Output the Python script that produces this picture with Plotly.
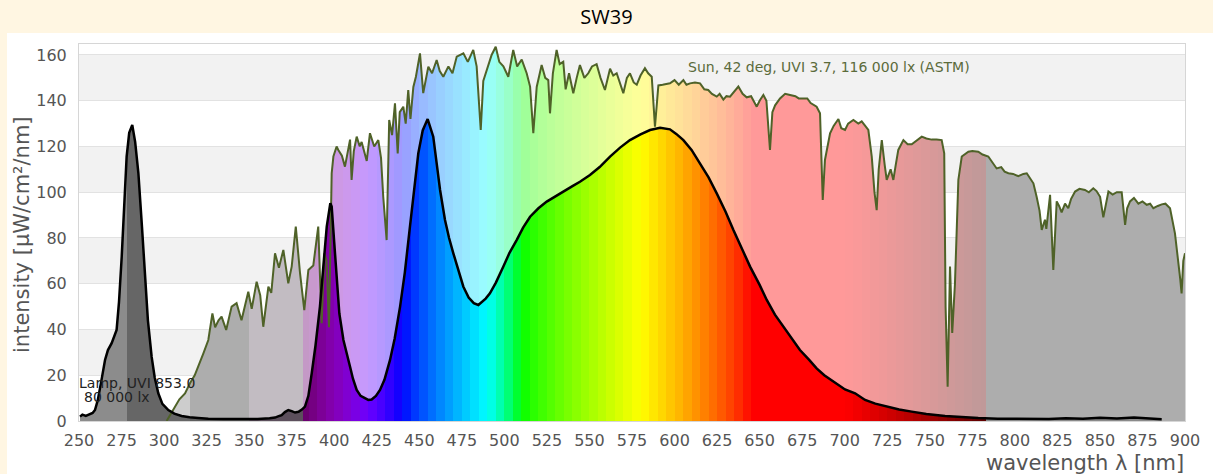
import plotly.graph_objects as go

# ---------------- data ----------------
sun_wl = [301.5, 306.4, 309, 312.3, 315.2, 318, 320.1, 323.1, 326, 328.4, 330, 332, 333.8, 336.5,
          339.7, 342.6, 345.5, 347.5, 349.5, 351.5, 354.4, 356.5, 358.3, 361.3, 363, 365.2, 367.5,
          370.1, 373, 375, 377.4, 379.9, 382.4, 384.8, 387.7, 390.6, 392.6, 394.2, 395.5, 396.9,
          398.5, 399.5, 401.4, 402.4, 404.5, 406.3, 408, 409.3, 410.2, 411.5, 413.2, 415, 416.1,
          418, 419.1, 421, 423.5, 425.9, 427.5, 428.8, 430.8, 432.3, 434, 435.7, 437.3, 438.5,
          440.6, 442, 443.5, 444.8, 446.5, 448, 450.4, 452.3, 455.3, 457.5, 460.2, 462, 464.1,
          467.1, 469.5, 472, 475.9, 478.5, 481.7, 483.7, 486.1, 487.6, 490.5, 492.5, 494.9, 497,
          499.4, 502.3, 505.2, 507.5, 510.2, 513.1, 515.1, 517, 519, 521.9, 524, 525.8, 526.8,
          528.5, 530.7, 532.5, 534.6, 536, 538, 540.5, 542.5, 544.4, 547, 549.3, 551.5, 554.2,
          556.5, 559.1, 562.1, 564, 566, 568, 569.9, 572, 573.8, 576, 577.8, 580, 582.6, 584.5,
          586.6, 588.5, 590.5, 593, 597.3, 600, 602.5, 605.2, 607, 609.1, 612, 615, 617.5, 619.8,
          622, 624.8, 626.5, 628.7, 630.5, 632.6, 635, 637.5, 640, 642.4, 645, 646.5, 648.3, 650,
          652.2, 654, 656.1, 657.5, 659.1, 662, 665, 667.9, 671, 673, 675.7, 678, 680, 683.5,
          685.5, 687.1, 688.4, 690, 691.4, 693.5, 696.3, 698, 700.2, 702, 705.1, 708, 710, 713.9,
          715.9, 717.5, 718.8, 720, 721.8, 723.5, 724.7, 727, 728.6, 730, 731.5, 734.5, 737,
          739.4, 742, 745.3, 748, 751.1, 754, 757, 758.5, 759.3, 760.5, 761.9, 763.2, 764.8,
          766.8, 768.8, 772.7, 775, 778.5, 781, 784.4, 787, 789.3, 792, 794, 796.2, 799, 802,
          805, 807, 809, 810.9, 812.8, 814.5, 815.8, 817.7, 818.5, 820.7, 822.6, 824.6, 826,
          827.5, 829.5, 831.4, 833, 835.4, 838, 841.2, 843.5, 846.1, 848, 850.1, 852, 853.5, 855,
          857.5, 859.9, 862.8, 864.8, 866, 867.7, 870, 872.6, 875, 877.5, 879.5, 881.4, 884,
          886.3, 888.5, 891.2, 894.1, 896.1, 897.2, 898, 899, 900]
sun_val = [0, 6.3, 9.5, 12.1, 16.5, 20, 23.7, 29.6, 35.4, 47, 41, 44, 45.6, 39.8,
           50, 51.5, 44, 50, 56.5, 49, 60.9, 55, 41.2, 58.7, 56, 73.3, 67,
           74.8, 60.2, 67.5, 85, 64.6, 48.5, 66, 68, 85, 42.7, 73.3, 70, 41,
           108.3, 115.6, 120, 118.5, 116, 111.2, 119, 123, 105.4, 118, 124.3, 120, 122,
           116, 113.7, 125.8, 120, 122.8, 115, 98, 79.1, 131.6, 125, 138.9, 117, 135,
           137.4, 130, 144.7, 132, 146, 150.5, 160.7, 143.3, 154.9, 152, 157.8, 153, 150.5,
           155, 152, 159.3, 160.7, 157, 162.2, 155, 127.2, 148.7, 155, 160, 163.6, 157,
           155, 150.5, 162.2, 155, 158, 152, 146.2, 125.8, 146, 155.6, 150, 149, 134.5,
           152, 162.2, 156, 157, 145, 152, 143.3, 150, 155.6, 150, 152, 155, 156,
           150, 144.7, 154, 151, 152, 148, 143.3, 150, 152, 148, 147, 151, 154.2, 152,
           150.5, 128.7, 146.7, 147, 147.6, 149, 147, 149, 147, 147.6, 148, 147.6, 145, 144.7,
           143, 141.8, 143, 140.5, 142, 141.8, 144, 146.2, 143, 141.5, 142, 140, 137.4, 140,
           142.5, 140, 118.5, 135, 138, 141, 143, 142.5, 142, 141, 141, 141, 139, 137.4,
           134.5, 96.6, 114.1, 120, 125.8, 129, 132, 128, 127.2, 130, 131.6, 130, 131, 127.2,
           115.6, 100, 92.2, 110, 122.8, 112, 105.4, 110, 105.4, 112, 118.5, 122.8, 121,
           121, 122.5, 124.3, 123.5, 123, 123, 122.8, 117, 50, 15, 67.5, 38.5, 60,
           105.4, 115.6, 117.7, 118, 117.7, 116.5, 115.6, 113, 110.4, 111, 109, 108.3, 108, 107,
           108, 108.3, 106, 103.9, 98, 92, 83.5, 88, 84, 98.9, 66, 96, 94,
           91.2, 95, 93, 97, 100.3, 101.5, 101, 100, 101.7, 100.5, 98, 89, 95, 100.3,
           99, 100, 100, 85.7, 93, 96, 97.5, 95, 96, 94.5, 95, 93, 94,
           94.7, 95, 93, 82, 70.3, 62, 55.8, 70, 73.3]

lamp_wl = [250.6, 252, 254, 256, 258, 259.4, 261, 263, 265.3, 267, 269.2, 272.1, 273.5, 275.1,
           276.5, 278, 279.5, 281.3, 283, 284.9, 287, 288.8, 290.5, 292.7, 294.5, 296.6, 299,
           302.5, 306, 310.3, 315, 320, 326, 335, 345, 355, 362, 365.2, 367, 369.1, 371, 373,
           375, 377, 379, 381, 382.8, 384.8, 386.8, 389, 391.6, 393.5, 395.6, 397.7, 398.5, 400,
           401.4, 403, 405.4, 407, 409.3, 411, 413.2, 415.5, 418, 420, 422, 424.5, 426.9, 429.5,
           432.8, 435.5, 438.7, 441.5, 444.5, 447, 449.4, 452, 454.9, 458.2, 460, 462.2, 465.1,
           467.5, 470, 473, 475.9, 479, 482, 484.7, 487, 489, 491.5, 495, 499.4, 503, 507.2,
           511, 515.1, 520, 524.9, 530, 534.6, 540, 544.4, 550.3, 556, 562.1, 568, 573.8, 580,
           585.6, 591.5, 597.3, 601, 605.2, 610, 615, 620, 624.8, 630, 634.6, 640, 644.4, 650,
           654.2, 659, 664, 669, 673.7, 679, 683.5, 688, 693.3, 700.2, 706.1, 712, 718, 725.7,
           732, 739.4, 748, 759, 768, 778.5, 790, 800, 810, 820, 830, 840, 850, 860, 870, 880,
           886.3]
lamp_val = [1.9, 2.8, 2.2, 3.0, 3.5, 4.8, 9, 17, 26.7, 31, 34, 39.8, 52, 71.8,
            94, 115.6, 126, 129.4, 122, 108.4, 85, 61.6, 44, 28, 19, 12.1, 7.5,
            4.8, 3.2, 2.2, 1.6, 1.3, 1.0, 0.9, 0.8, 0.9, 1.2, 1.5, 2.0, 2.6, 3.9, 4.8,
            4.3, 3.7, 4.0, 5.0, 6.3, 11, 21, 33, 50, 67, 85, 95.2, 93.7, 78,
            61.6, 47, 35.4, 30, 23.7, 18.5, 13.6, 11, 9.8, 9.2, 9.4, 11, 13.6, 18,
            26.7, 36, 50, 65, 85, 102, 117, 127, 132, 124.3, 113, 101, 87.9,
            80, 73.3, 66, 58.7, 54, 51.5, 50.7, 52, 53.5, 55.8, 60.5, 67.5, 73.5, 79.1,
            84.5, 89.3, 93, 95.9, 98.3, 100.3, 102.7, 104.6, 107.5, 111, 115.6, 119.5, 122.8, 125.3,
            127.2, 128.2, 127.5, 125.5, 122.8, 118.5, 112.6, 106.5, 99.5, 91.5, 83.5, 75, 67.5, 59.5,
            52.9, 46.5, 41.2, 36, 31, 26.8, 23, 20, 17.2, 13.8, 12.1, 9.2, 7.6, 6.3,
            5, 4.1, 3.1, 2.2, 1.7, 1.3, 1.0, 0.9, 1.1, 0.9, 1.2, 1.0, 1.4, 1.1, 1.5, 1.2,
            0.8]

x_ticks = list(range(250, 901, 25))
y_ticks = [0, 20, 40, 60, 80, 100, 120, 140, 160]

title_text = "SW39"
sun_label = "Sun, 42 deg, UVI 3.7, 116 000 lx (ASTM)"
lamp_label_1 = "Lamp, UVI 853.0"
lamp_label_2 = "80 000 lx"

# ---------------- colours ----------------
X0, X1 = 250, 900
UV_EDGE, IR_EDGE = 381.5, 783
PAGE_BG = "#fff6e2"


def spectral(wl):
    if wl < 440:
        r, g, b = -(wl - 440) / 60, 0, 1
    elif wl < 490:
        r, g, b = 0, (wl - 440) / 50, 1
    elif wl < 510:
        r, g, b = 0, 1, -(wl - 510) / 20
    elif wl < 580:
        r, g, b = (wl - 510) / 70, 1, 0
    elif wl < 645:
        r, g, b = 1, -(wl - 645) / 65, 0
    else:
        r, g, b = 1, 0, 0
    if wl < 420:
        f = 0.3 + 0.7 * (wl - 380) / 40
    elif wl > 700:
        f = max(0.3, 0.3 + 0.7 * (780 - wl) / 80)
    else:
        f = 1
    return [max(0.0, min(1.0, (c * f))) ** 0.8 if c > 0 else 0.0 for c in (r, g, b)]


def hexc(rgb):
    return "#%02x%02x%02x" % tuple(int(round(255 * c)) for c in rgb)


def lamp_color(c):
    if c < 278:
        return "#8c8c8c"
    if c < 315:
        return "#666666"
    if c < 350:
        return "#5e5e5e"
    if c < UV_EDGE:
        return "#5c4f5c"
    if c < IR_EDGE:
        return hexc(spectral(c))
    return "#8a8a8a"


def sun_color(c):
    if c < 315:
        return "#cdcdcd"
    if c < 350:
        return "#adadad"
    if c < UV_EDGE:
        return "#c2bcc2"
    if c < IR_EDGE:
        return hexc([0.4 * v + 0.6 for v in spectral(c)])
    return "#adadad"


edges = sorted(set(list(range(X0, X1 + 1, 5)) + [278, UV_EDGE, IR_EDGE]))


def stepped_scale(colfun):
    cs = []
    for a, b in zip(edges[:-1], edges[1:]):
        col = colfun((a + b) / 2)
        cs.append([(a - X0) / (X1 - X0), col])
        cs.append([(b - X0) / (X1 - X0), col])
    cs[0][0] = 0.0
    cs[-1][0] = 1.0
    return cs


sun_cs = stepped_scale(sun_color)
lamp_cs = stepped_scale(lamp_color)

# ---------------- figure ----------------
fig = go.Figure()

fig.add_trace(go.Scatter(x=sun_wl, y=sun_val, mode="lines", line=dict(width=0, color="#4f6228"),
                         fill="tozeroy",
                         fillgradient=dict(type="horizontal", colorscale=sun_cs, start=X0, stop=X1),
                         hoverinfo="skip", showlegend=False))
fig.add_trace(go.Scatter(x=lamp_wl, y=lamp_val, mode="lines", line=dict(width=0, color="#000"),
                         fill="tozeroy",
                         fillgradient=dict(type="horizontal", colorscale=lamp_cs, start=X0, stop=X1),
                         hoverinfo="skip", showlegend=False))
fig.add_trace(go.Scatter(x=sun_wl, y=sun_val, mode="lines", line=dict(width=2, color="#4f6228"),
                         hoverinfo="skip", showlegend=False))
fig.add_trace(go.Scatter(x=lamp_wl, y=lamp_val, mode="lines", line=dict(width=2.5, color="#000000"),
                         hoverinfo="skip", showlegend=False))

W, H = 1213, 474
ML, MR, MT, MB = 79, W - 1185, 44, H - 421
PW, PH = W - ML - MR, H - MT - MB


def px_x(p):
    return (p - ML) / PW


def px_y(p):
    return (H - MB - p) / PH


shapes = [dict(type="rect", xref="paper", yref="paper", x0=px_x(7), x1=px_x(W + 5),
               y0=px_y(H + 5), y1=px_y(33), fillcolor="white", line=dict(width=0), layer="below")]
for lo, hi in zip(y_ticks[1::2], y_ticks[2::2]):
    shapes.append(dict(type="rect", xref="paper", yref="y", x0=0, x1=1, y0=lo, y1=hi,
                       fillcolor="#f2f2f2", line=dict(width=0), layer="below"))

font_main = "DejaVu Sans, Verdana, sans-serif"

fig.update_layout(
    width=W, height=H,
    margin=dict(l=ML, r=MR, t=MT, b=MB, autoexpand=False),
    paper_bgcolor=PAGE_BG,
    plot_bgcolor="white",
    shapes=shapes,
    title=dict(text=title_text, x=0.5, xref="container", xanchor="center",
               y=1 - 17 / H, yref="container", yanchor="middle",
               font=dict(family="Open Sans, sans-serif", size=20, color="#000")),
    font=dict(family=font_main, color="#555555"),
    xaxis=dict(range=[X0, X1], tickvals=x_ticks, ticktext=[str(t) for t in x_ticks],
               showgrid=False, zeroline=False, showline=True, mirror=True, automargin=False,
               linecolor="#d6d6d6", linewidth=1, ticks="outside", ticklen=5,
               tickcolor="rgba(0,0,0,0)", tickfont=dict(size=16, color="#555555")),
    yaxis=dict(range=[0, 164.8], tickvals=y_ticks, showgrid=True, gridcolor="#e2e2e2",
               gridwidth=1, zeroline=False, showline=True, mirror=True, automargin=False,
               linecolor="#d6d6d6", linewidth=1, ticks="outside", ticklen=8,
               tickcolor="rgba(0,0,0,0)", tickfont=dict(size=16, color="#555555")),
    annotations=[
        dict(text="intensity [µW/cm²/nm]", xref="paper", yref="paper", x=px_x(22), y=px_y(235),
             xanchor="center", yanchor="middle", textangle=-90, showarrow=False,
             font=dict(size=21, color="#555555", family=font_main)),
        dict(text="wavelength λ [nm]", xref="paper", yref="paper", x=px_x(1186), y=px_y(463),
             xanchor="right", yanchor="middle", showarrow=False,
             font=dict(size=21, color="#555555", family=font_main)),
        dict(text=sun_label, xref="paper", yref="paper", x=px_x(686), y=px_y(67),
             xanchor="left", yanchor="middle", showarrow=False,
             font=dict(size=14, color="#5b6b3b", family=font_main)),
        dict(text=lamp_label_1, xref="paper", yref="paper", x=px_x(77), y=px_y(383),
             xanchor="left", yanchor="middle", showarrow=False,
             font=dict(size=14, color="#222222", family=font_main)),
        dict(text=lamp_label_2, xref="paper", yref="paper", x=px_x(82), y=px_y(397),
             xanchor="left", yanchor="middle", showarrow=False,
             font=dict(size=14, color="#222222", family=font_main)),
    ],
)

fig.write_html(
    "out.html",
    config={"displayModeBar": False},
    post_script=("document.body.style.margin='0';"
                 "document.body.style.padding='0';"
                 "document.body.style.background='" + PAGE_BG + "';"),
)
